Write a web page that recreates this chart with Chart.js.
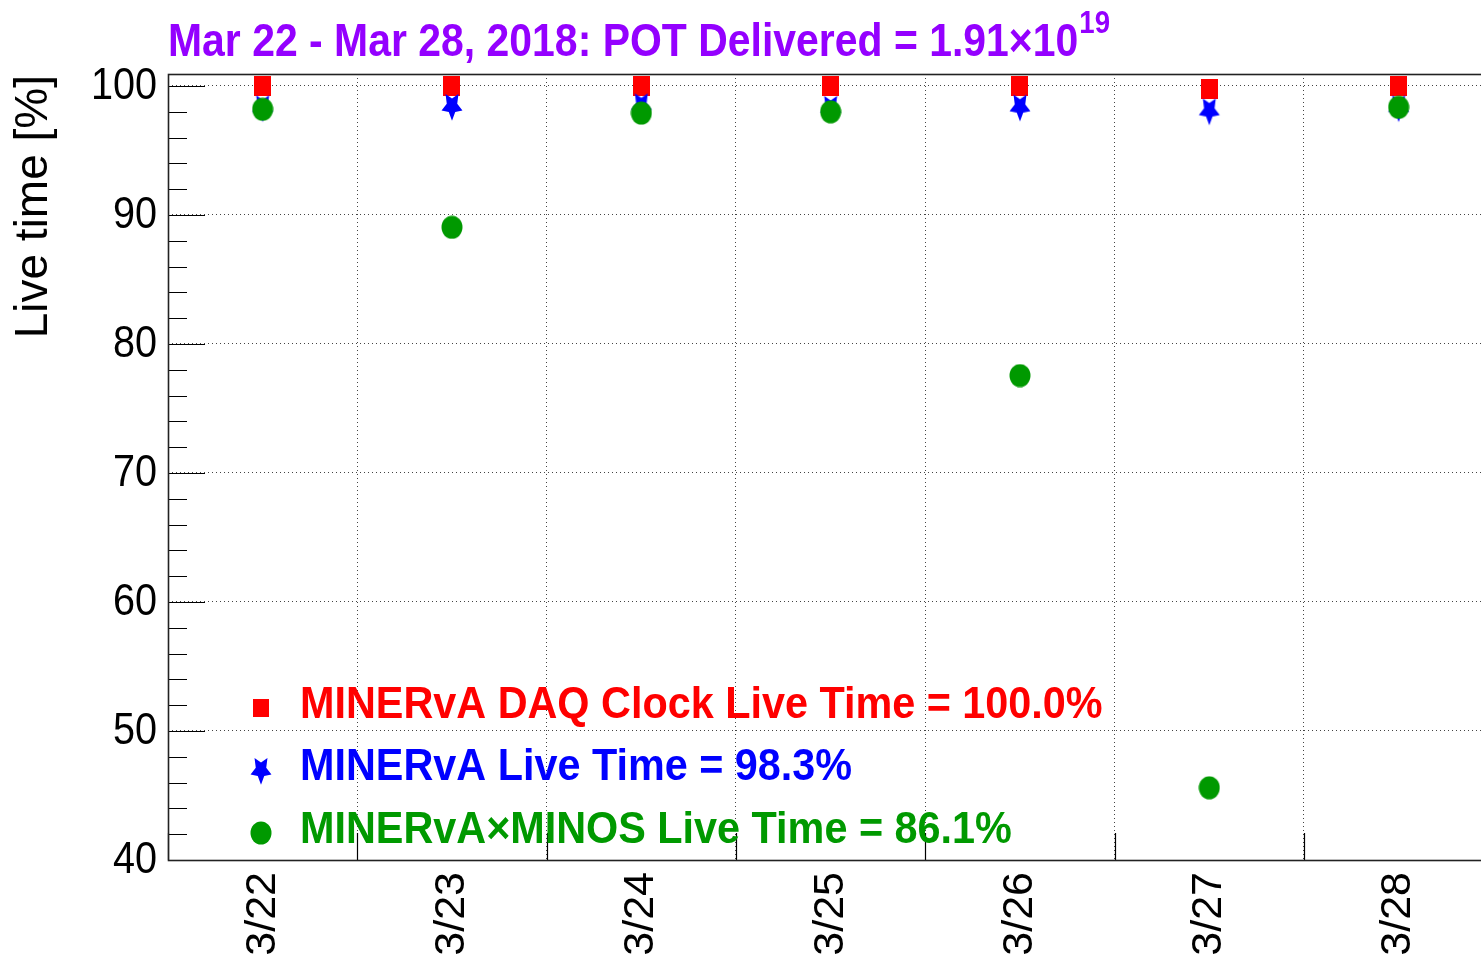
<!DOCTYPE html>
<html><head><meta charset="utf-8">
<script src="https://cdn.jsdelivr.net/npm/chart.js@4.4.1/dist/chart.umd.min.js"></script>
<style>
html,body{margin:0;padding:0;background:#fff;overflow:hidden;width:1481px;height:961px}
#wrap{position:absolute;left:0;top:0;width:1500px;height:961px}
</style>
</head><body><div id="wrap"><canvas id="c" width="1500" height="961"></canvas></div>
<script>
// ---- data ----
const categories = ['3/22','3/23','3/24','3/25','3/26','3/27','3/28'];
const daqClockLive = [100.0, 100.0, 100.0, 100.0, 100.0, 99.75, 100.0];
const minervaLive = [98.35, 98.45, 98.5, 98.3, 98.4, 98.1, 98.35];
const minervaMinosLive = [98.2, 89.05, 97.9, 98.0, 77.55, 45.6, 98.35];
const yTicks = [40, 50, 60, 70, 80, 90, 100];
const yMinorStep = 2;
const seriesNames = ['MINERvA DAQ Clock Live Time = 100.0%', 'MINERvA Live Time = 98.3%', 'MINERvA\u00d7MINOS Live Time = 86.1%'];
const titleMain = 'Mar 22 - Mar 28, 2018: POT Delivered = 1.91\u00d710';
const titleExp = '19';
const yTitle = 'Live time [%]';

const RED = '#ff0000', BLUE = '#0000ff', GREEN = '#009900', PURPLE = '#9400ff';
const FONT = '"Liberation Sans", Arial, Helvetica, sans-serif';

function makeSquare(color){
  const c = document.createElement('canvas'); c.width = 17; c.height = 20;
  const g = c.getContext('2d'); g.fillStyle = color; g.fillRect(0,0,17,20); return c;
}
function makeStar(color){
  const c = document.createElement('canvas'); c.width = 24; c.height = 32;
  const g = c.getContext('2d'); g.fillStyle = color;
  const cx = 12, cy = 16, rx = 11, ry = 14.8, k = 0.5;
  g.beginPath();
  for (let i = 0; i < 10; i++){
    const ang = Math.PI/2 + i*Math.PI/5;
    const f = (i % 2 === 0) ? 1 : k;
    const x = cx + rx*f*Math.cos(ang), y = cy + ry*f*Math.sin(ang);
    if (i === 0) g.moveTo(x,y); else g.lineTo(x,y);
  }
  g.closePath(); g.fill(); return c;
}
function makeDot(color){
  const c = document.createElement('canvas'); c.width = 22; c.height = 24;
  const g = c.getContext('2d'); g.fillStyle = color;
  g.beginPath(); g.ellipse(11,12,10.5,11.5,0,0,Math.PI*2); g.fill(); return c;
}
const imgSquare = makeSquare(RED), imgStar = makeStar(BLUE), imgDot = makeDot(GREEN);

function scaledText(ctx, text, x, y, sx){
  ctx.save(); ctx.translate(x, y); ctx.scale(sx, 1); ctx.fillText(text, 0, 0); ctx.restore();
}

const decor = {
  id: 'decor',
  afterDraw(chart){
    const ctx = chart.ctx, a = chart.chartArea, ys = chart.scales.y, xs = chart.scales.x;
    ctx.save();
    // ticks
    ctx.strokeStyle = '#000'; ctx.lineWidth = 1.2;
    ctx.beginPath();
    for (let v = yTicks[0]; v <= yTicks[yTicks.length-1] + 1e-9; v += yMinorStep){
      const p = Math.round(ys.getPixelForValue(v)) + 0.5;
      const major = yTicks.includes(v);
      ctx.moveTo(a.left, p); ctx.lineTo(a.left + (major ? 37 : 19), p);
    }
    for (let i = 0; i <= categories.length; i++){
      const p = Math.round(xs.getPixelForValue(i - 0.5)) + 0.5;
      ctx.moveTo(p, a.bottom); ctx.lineTo(p, a.bottom - 27);
    }
    ctx.stroke();
    // frame
    ctx.lineWidth = 1.6; ctx.strokeStyle = '#222';
    ctx.strokeRect(a.left + 0.5, a.top + 0.5, a.right - a.left, a.bottom - a.top);
    // y tick labels
    ctx.fillStyle = '#000'; ctx.font = '44px ' + FONT; ctx.textAlign = 'right'; ctx.textBaseline = 'middle';
    for (const v of yTicks){
      scaledText(ctx, String(v), a.left - 11, ys.getPixelForValue(v) + 1, 0.9);
    }
    // title
    ctx.fillStyle = PURPLE; ctx.textBaseline = 'alphabetic'; ctx.textAlign = 'left';
    ctx.font = 'bold 46px ' + FONT;
    const sxT = 0.89;
    scaledText(ctx, titleMain, a.left, 56, sxT);
    const w = ctx.measureText(titleMain).width * sxT;
    ctx.font = 'bold 31px ' + FONT;
    scaledText(ctx, titleExp, a.left + w + 1, 33, sxT);
    // y title
    ctx.save();
    ctx.translate(47, a.top + 1); ctx.rotate(-Math.PI/2);
    ctx.fillStyle = '#000'; ctx.font = '46px ' + FONT; ctx.textAlign = 'right'; ctx.textBaseline = 'alphabetic';
    ctx.fillText(yTitle, 0, 0);
    ctx.restore();
    // legend
    const imgs = [imgSquare, imgStar, imgDot], cols = [RED, BLUE, GREEN];
    const rowsY = [704, 766, 829];
    ctx.font = 'bold 44px ' + FONT; ctx.textBaseline = 'middle'; ctx.textAlign = 'left';
    for (let i = 0; i < 3; i++){
      const im = imgs[i];
      const s = (i === 0) ? 0.9 : 1;
      ctx.drawImage(im, 261 - im.width*s/2, rowsY[i] + 4 - im.height*s/2, im.width*s, im.height*s);
      ctx.fillStyle = cols[i];
      scaledText(ctx, seriesNames[i], 300, rowsY[i] + 2, 0.94);
    }
    ctx.restore();
  }
};

new Chart(document.getElementById('c'), {
  type: 'line',
  data: {
    labels: categories,
    datasets: [
      { label: seriesNames[0], data: daqClockLive, showLine: false, pointStyle: imgSquare, pointRadius: 10, pointHoverRadius: 10, pointBorderWidth: 0, order: 3, backgroundColor: RED, borderColor: RED },
      { label: seriesNames[1], data: minervaLive, showLine: false, pointStyle: imgStar, pointRadius: 10, pointHoverRadius: 10, pointBorderWidth: 0, order: 2, backgroundColor: BLUE, borderColor: BLUE },
      { label: seriesNames[2], data: minervaMinosLive, showLine: false, pointStyle: imgDot, pointRadius: 10, pointHoverRadius: 10, pointBorderWidth: 0, order: 1, backgroundColor: GREEN, borderColor: GREEN }
    ]
  },
  options: {
    responsive: false, animation: false, devicePixelRatio: 1,
    layout: { autoPadding: false, padding: { top: 74, left: 0, right: 6.7, bottom: 0 } },
    plugins: { legend: { display: false }, title: { display: false }, tooltip: { enabled: false } },
    events: [],
    scales: {
      x: {
        type: 'category', offset: true,
        grid: { offset: true, color: '#444', lineWidth: 1, drawTicks: false },
        border: { display: false, dash: [1, 3] },
        ticks: { color: '#000', font: { family: FONT, size: 43 }, minRotation: 90, maxRotation: 90, padding: 12, autoSkip: false },
        afterFit(s){ s.height = 101; s.paddingLeft = 0; s.paddingRight = 0; }
      },
      y: {
        type: 'linear', min: 40, max: 100.93,
        afterBuildTicks(s){ s.ticks = yTicks.map(v => ({ value: v })); },
        grid: { color: '#444', lineWidth: 1, drawTicks: false },
        border: { display: false, dash: [1, 3] },
        ticks: { display: false, includeBounds: false },
        afterFit(s){ s.width = 168; s.paddingTop = 0; s.paddingBottom = 0; }
      }
    }
  },
  plugins: [decor]
});
</script>
</body></html>
